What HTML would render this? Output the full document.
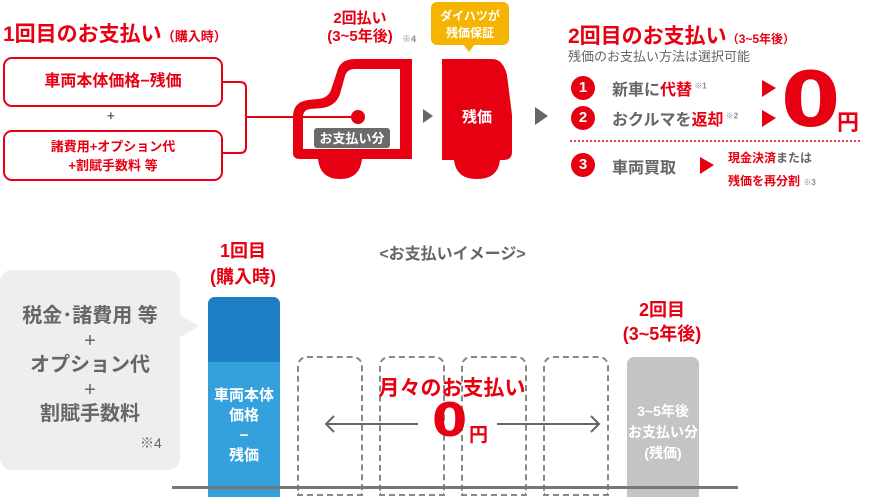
<!DOCTYPE html>
<html><head><meta charset="utf-8"><style>
*{margin:0;padding:0;box-sizing:border-box}
body{width:876px;height:489px;background:#fff;position:relative;overflow:hidden;font-family:"Liberation Sans","Noto Sans CJK JP",sans-serif;font-weight:bold}
.a{position:absolute;white-space:nowrap}
.r{color:#e60012}.g{color:#666}
.c{text-align:center}
.box{position:absolute;border:2.5px solid #e60012;border-radius:9px;background:#fff;color:#e60012;text-align:center}
.circ{position:absolute;width:24px;height:24px;border-radius:50%;background:#e60012;color:#fff;font-size:15px;line-height:24px;text-align:center}
.dash{position:absolute;top:356px;height:140px;width:66px;border:2px dashed #888;border-radius:10px 10px 0 0}
</style></head><body>

<div class="a r" style="left:3px;top:18px;font-size:21px">1回目のお支払い<span style="font-size:13px">（購入時）</span></div>
<div class="box" style="left:3px;top:57px;width:220px;height:50px;font-size:16px;line-height:45px">車両本体価格−残価</div>
<div class="a g" style="left:107px;top:108px;font-size:13px">+</div>
<div class="box" style="left:3px;top:130px;width:220px;height:51px;font-size:13px;line-height:19px;padding-top:5px">諸費用+オプション代<br>+割賦手数料 等</div>

<svg class="a" style="left:0;top:0" width="876" height="200">
<path d="M223 82 H240 Q246 82 246 88 V147 Q246 153 240 153 H223" fill="none" stroke="#e60012" stroke-width="2"/>
<line x1="246" y1="117" x2="358" y2="117" stroke="#e60012" stroke-width="2"/>
<path d="M412 59 H355 Q340 59 337 72 L331 90 Q328 98 318 99 L308 100 Q293 102 293 117 V153 Q293 159 300 159 H318 Q320 179 340 179 Q360 179 362 159 H412 V149 H303 V117 Q303 110 310 109 L322 108 Q336 106 340 94 L345 76 Q347 69 355 69 H400 V149 H412 Z" fill="#e60012"/>
<circle cx="358" cy="117" r="7" fill="#e60012"/>
<rect x="314" y="128" width="76" height="20" rx="3" fill="#6b6b6b"/>
<text x="352" y="143" fill="#fff" font-size="13" text-anchor="middle" font-weight="bold" font-family="Liberation Sans, Noto Sans CJK JP, sans-serif">お支払い分</text>
<polygon points="423,109 433,116 423,123" fill="#666"/>
<path d="M442 59 H492 Q503 59 507 75 L512 115 V152 Q512 160 504 160 H500 Q498 179 477 179 Q456 179 454 160 H442 Z" fill="#e60012"/>
<text x="477" y="122" fill="#fff" font-size="15" text-anchor="middle" font-weight="bold" font-family="Liberation Sans, Noto Sans CJK JP, sans-serif">残価</text>
<rect x="431" y="2" width="78" height="43" rx="6" fill="#f5b400"/>
<polygon points="463,44 475,44 469,52" fill="#f5b400"/>
<text x="470" y="20" fill="#fff" font-size="12" text-anchor="middle" font-weight="bold" font-family="Liberation Sans, Noto Sans CJK JP, sans-serif">ダイハツが</text>
<text x="470" y="37" fill="#fff" font-size="12" text-anchor="middle" font-weight="bold" font-family="Liberation Sans, Noto Sans CJK JP, sans-serif">残価保証</text>
<polygon points="535,107 548,116 535,125" fill="#666"/>
<line x1="570" y1="141" x2="862" y2="141" stroke="#e60012" stroke-width="1.5" stroke-dasharray="2 2"/>
<polygon points="762,80 776,88 762,97" fill="#e60012"/>
<polygon points="762,110 776,118 762,127" fill="#e60012"/>
<polygon points="700,157 714,165 700,174" fill="#e60012"/>
</svg>

<div class="a r c" style="left:310px;top:10px;width:100px;font-size:15px;line-height:18px">2回払い<br>(3~5年後)</div>
<div class="a g" style="left:402px;top:32px;font-size:9px;color:#888">※4</div>

<div class="a r" style="left:568px;top:20px;font-size:21px">2回目のお支払い<span style="font-size:12px">（3~5年後）</span></div>
<div class="a g" style="left:568px;top:46px;font-size:13px;font-weight:normal">残価のお支払い方法は選択可能</div>
<div class="circ" style="left:571px;top:76px">1</div>
<div class="a g" style="left:612px;top:76px;font-size:16px">新車に<span class="r">代替</span><sup style="font-size:8px;color:#888"> ※1</sup></div>
<div class="circ" style="left:571px;top:106px">2</div>
<div class="a g" style="left:612px;top:106px;font-size:16px">おクルマを<span class="r">返却</span><sup style="font-size:8px;color:#888"> ※2</sup></div>
<div class="a r" style="left:781px;top:60px;font-size:76px;line-height:80px;font-family:'DejaVu Sans',sans-serif;transform:scaleX(1.12);transform-origin:left">0</div>
<div class="a r" style="left:837px;top:105px;font-size:22px">円</div>
<div class="circ" style="left:571px;top:153px">3</div>
<div class="a g" style="left:612px;top:154px;font-size:16px">車両買取</div>
<div class="a r" style="left:728px;top:147px;font-size:12px;line-height:23px">現金決済<span class="g">または</span><br>残価を再分割 <span style="font-size:8px;color:#888">※3</span></div>

<div class="a g c" style="left:340px;top:240px;width:225px;font-size:16px">&lt;お支払いイメージ&gt;</div>
<div class="a r c" style="left:193px;top:238px;width:100px;font-size:18px;line-height:26px">1回目<br>(購入時)</div>
<div class="a r c" style="left:612px;top:298px;width:100px;font-size:18px;line-height:24px">2回目<br>(3~5年後)</div>

<div class="a" style="left:0;top:270px;width:180px;height:200px;background:#eee;border-radius:12px"></div>
<div class="a" style="left:179px;top:314px;width:0;height:0;border-top:12px solid transparent;border-bottom:12px solid transparent;border-left:20px solid #eee"></div>
<div class="a c" style="left:0;top:304px;width:180px;font-size:20px;line-height:24.5px;color:#666">税金･諸費用 等<br><span style="font-weight:normal">+</span><br>オプション代<br><span style="font-weight:normal">+</span><br>割賦手数料</div>
<div class="a" style="left:140px;top:433px;font-size:14px;color:#666;font-weight:normal">※4</div>

<div class="a" style="left:208px;top:297px;width:72px;height:200px;background:#34a0dc;border-radius:7px 7px 0 0;overflow:hidden"><div style="height:65px;background:#1e7ec4"></div></div>
<div class="a c" style="left:208px;top:386px;width:72px;color:#fff;font-size:15px;line-height:20px">車両本体<br>価格<br>−<br>残価</div>

<div class="dash" style="left:297px"></div>
<div class="dash" style="left:379px"></div>
<div class="dash" style="left:461px"></div>
<div class="dash" style="left:543px"></div>

<div class="a" style="left:627px;top:357px;width:72px;height:140px;background:#c4c4c4;border-radius:7px 7px 0 0"></div>
<div class="a c" style="left:627px;top:401px;width:72px;color:#fff;font-size:14px;line-height:21px">3~5年後<br>お支払い分<br>(残価)</div>

<div class="a" style="left:172px;top:486px;width:566px;height:3px;background:#777"></div>

<svg class="a" style="left:0;top:0" width="876" height="489">
<line x1="326" y1="424" x2="418" y2="424" stroke="#666" stroke-width="2"/>
<polyline points="334,416 326,424 334,432" fill="none" stroke="#666" stroke-width="2"/>
<line x1="497" y1="424" x2="599" y2="424" stroke="#666" stroke-width="2"/>
<polyline points="591,416 599,424 591,432" fill="none" stroke="#666" stroke-width="2"/>
</svg>
<div class="a r c" style="left:352px;top:372px;width:200px;font-size:21px">月々のお支払い</div>
<div class="a r" style="left:432px;top:397px;font-size:46px;line-height:46px;font-family:'DejaVu Sans',sans-serif;transform:scaleX(1.1);transform-origin:left">0</div>
<div class="a r" style="left:469px;top:420px;font-size:19px">円</div>
</body></html>
